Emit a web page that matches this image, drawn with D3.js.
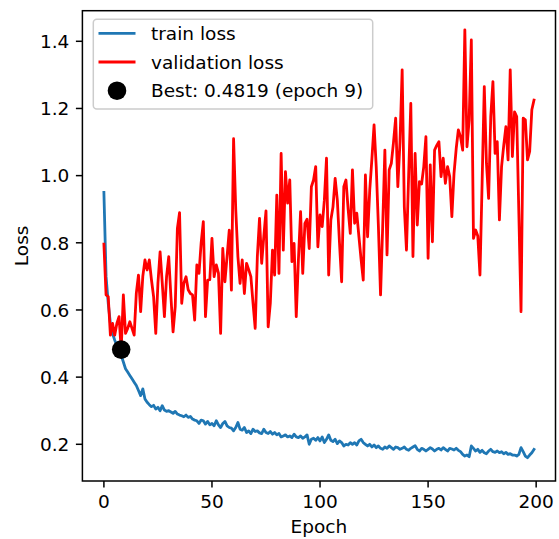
<!DOCTYPE html>
<html>
<head>
<meta charset="utf-8">
<script src="https://cdn.jsdelivr.net/npm/d3@7"></script>
<style>
  html, body { margin: 0; padding: 0; background: #fff; }
  svg { display: block; font-family: "DejaVu Sans", sans-serif; }
</style>
</head>
<body>
<svg id="chart" width="559" height="539"></svg>
<script>
// ── Data ──────────────────────────────────────────────────────────────────
const trainLoss = [
  0.950, 0.700, 0.620, 0.560, 0.530, 0.510, 0.495, 0.480, 0.465, 0.445,
  0.425, 0.415, 0.405, 0.395, 0.385, 0.375, 0.360, 0.345, 0.365, 0.335,
  0.325, 0.318, 0.312, 0.316, 0.305, 0.310, 0.300, 0.315, 0.302, 0.298,
  0.300, 0.296, 0.292, 0.298, 0.290, 0.287, 0.285, 0.282, 0.287, 0.280,
  0.283, 0.275, 0.272, 0.270, 0.262, 0.272, 0.270, 0.260, 0.268, 0.258,
  0.262, 0.255, 0.270, 0.258, 0.250, 0.262, 0.268, 0.255, 0.250, 0.248,
  0.240, 0.250, 0.265, 0.245, 0.242, 0.250, 0.235, 0.240, 0.232, 0.245,
  0.238, 0.240, 0.234, 0.232, 0.245, 0.235, 0.232, 0.238, 0.230, 0.235,
  0.228, 0.232, 0.222, 0.225, 0.228, 0.222, 0.225, 0.220, 0.230, 0.222,
  0.220, 0.225, 0.218, 0.222, 0.228, 0.200, 0.215, 0.218, 0.212, 0.220,
  0.210, 0.222, 0.205, 0.215, 0.228, 0.212, 0.208, 0.215, 0.202, 0.210,
  0.205, 0.195, 0.200, 0.198, 0.205, 0.200, 0.205, 0.198, 0.210, 0.215,
  0.205, 0.200, 0.195, 0.200, 0.192, 0.198, 0.190, 0.195, 0.188, 0.185,
  0.192, 0.188, 0.195, 0.190, 0.185, 0.192, 0.190, 0.185, 0.188, 0.192,
  0.185, 0.182, 0.188, 0.192, 0.196, 0.185, 0.180, 0.188, 0.185, 0.180,
  0.185, 0.190, 0.186, 0.180, 0.185, 0.188, 0.183, 0.190, 0.185, 0.180,
  0.188, 0.186, 0.183, 0.188, 0.182, 0.178, 0.170, 0.165, 0.168, 0.163,
  0.195, 0.188, 0.180, 0.185, 0.176, 0.182, 0.175, 0.172, 0.180, 0.185,
  0.178, 0.176, 0.180, 0.175, 0.178, 0.172, 0.176, 0.170, 0.172, 0.168,
  0.168, 0.165, 0.170, 0.190, 0.178, 0.165, 0.160, 0.168, 0.175, 0.185
];

const valLoss = [
  0.796, 0.645, 0.640, 0.525, 0.560, 0.525, 0.560, 0.580, 0.482, 0.645,
  0.530, 0.545, 0.565, 0.545, 0.525, 0.650, 0.704, 0.595, 0.700, 0.749,
  0.719, 0.749, 0.690, 0.639, 0.530, 0.680, 0.773, 0.680, 0.580, 0.700,
  0.759, 0.640, 0.535, 0.610, 0.843, 0.890, 0.620, 0.680, 0.699, 0.660,
  0.649, 0.645, 0.570, 0.734, 0.709, 0.800, 0.863, 0.580, 0.689, 0.690,
  0.813, 0.699, 0.734, 0.710, 0.530, 0.783, 0.684, 0.760, 0.838, 0.659,
  1.110, 0.900, 0.759, 0.679, 0.749, 0.649, 0.739, 0.720, 0.699, 0.620,
  0.545, 0.760, 0.873, 0.739, 0.820, 0.895, 0.550, 0.620, 0.778, 0.704,
  0.942, 0.709, 1.066, 0.778, 1.012, 0.918, 0.987, 0.744, 0.798, 0.580,
  0.750, 0.893, 0.709, 0.858, 0.870, 0.783, 0.967, 0.987, 1.027, 0.788,
  0.883, 0.848, 0.927, 1.052, 0.704, 0.868, 0.907, 0.992, 0.927, 0.800,
  0.684, 0.967, 0.987, 0.900, 0.828, 1.017, 0.858, 0.888, 0.818, 0.750,
  0.689, 1.002, 0.818, 0.957, 1.050, 1.151, 1.027, 0.850, 0.645, 0.850,
  1.076, 0.764, 1.017, 1.037, 1.100, 1.171, 0.967, 1.100, 1.315, 0.907,
  0.778, 1.000, 1.215, 0.759, 1.066, 0.853, 0.982, 0.975, 1.027, 1.116,
  0.754, 1.032, 0.803, 1.076, 1.090, 1.101, 0.997, 1.052, 0.977, 1.027,
  0.997, 0.878, 1.007, 1.080, 1.136, 1.116, 1.076, 1.434, 1.086, 1.166,
  1.404, 0.813, 0.838, 0.820, 0.704, 0.980, 1.265, 1.037, 0.932, 1.176,
  1.280, 1.066, 1.101, 0.868, 1.027, 1.090, 1.146, 1.047, 1.315, 1.057,
  1.190, 1.176, 0.885, 0.595, 1.171, 1.166, 1.047, 1.072, 1.196, 1.225
];

const bestEpoch = 8;          // 0-based index; label says epoch 9
const bestLoss = 0.4819;

const xTicks = [0, 50, 100, 150, 200];
const yTicks = [0.2, 0.4, 0.6, 0.8, 1.0, 1.2, 1.4];

const legendLabels = ['train loss', 'validation loss', `Best: ${bestLoss.toFixed(4)} (epoch ${bestEpoch + 1})`];

// ── Geometry ──────────────────────────────────────────────────────────────
const plot = { left: 82.4, right: 555.5, top: 10.7, bottom: 481 };
const FONT = 18.5;
const TICK_LEN = 6.5;
const TICK_PAD = 6.5;

const x = d3.scaleLinear().domain([-9.95, 208.95]).range([plot.left, plot.right]);
const y = d3.scaleLinear().domain([0.0907, 1.4911]).range([plot.bottom, plot.top]);

const svg = d3.select('#chart');

// Clip the data to the axes box
svg.append('clipPath').attr('id', 'clip')
  .append('rect')
  .attr('x', plot.left).attr('y', plot.top)
  .attr('width', plot.right - plot.left).attr('height', plot.bottom - plot.top);

const line = d3.line()
  .x((d, i) => x(i))
  .y(d => y(d));

const g = svg.append('g').attr('clip-path', 'url(#clip)');

g.append('path')
  .datum(trainLoss)
  .attr('d', line)
  .attr('fill', 'none')
  .attr('stroke', '#1f77b4')
  .attr('stroke-width', 2.8)
  .attr('stroke-linejoin', 'round')
  .attr('stroke-linecap', 'square');

g.append('path')
  .datum(valLoss)
  .attr('d', line)
  .attr('fill', 'none')
  .attr('stroke', '#ff0000')
  .attr('stroke-width', 2.8)
  .attr('stroke-linejoin', 'round')
  .attr('stroke-linecap', 'square');

g.append('circle')
  .attr('cx', x(bestEpoch))
  .attr('cy', y(bestLoss))
  .attr('r', 9.3)
  .attr('fill', '#000');

// ── Axes ──────────────────────────────────────────────────────────────────
const xAxis = svg.append('g');
xAxis.selectAll('line.tick').data(xTicks).enter().append('line')
  .attr('x1', d => x(d)).attr('x2', d => x(d))
  .attr('y1', plot.bottom).attr('y2', plot.bottom + TICK_LEN)
  .attr('stroke', '#000').attr('stroke-width', 1.5);
xAxis.selectAll('text').data(xTicks).enter().append('text')
  .attr('x', d => x(d))
  .attr('y', plot.bottom + TICK_LEN + TICK_PAD + 0.73 * FONT)
  .attr('text-anchor', 'middle')
  .attr('font-size', FONT)
  .attr('fill', '#000')
  .text(d => d);

const yAxis = svg.append('g');
yAxis.selectAll('line.tick').data(yTicks).enter().append('line')
  .attr('x1', plot.left - TICK_LEN).attr('x2', plot.left)
  .attr('y1', d => y(d)).attr('y2', d => y(d))
  .attr('stroke', '#000').attr('stroke-width', 1.5);
yAxis.selectAll('text').data(yTicks).enter().append('text')
  .attr('x', plot.left - TICK_LEN - TICK_PAD)
  .attr('y', d => y(d) + 0.365 * FONT)
  .attr('text-anchor', 'end')
  .attr('font-size', FONT)
  .attr('fill', '#000')
  .text(d => d3.format('.1f')(d));

// spines
svg.append('rect')
  .attr('x', plot.left).attr('y', plot.top)
  .attr('width', plot.right - plot.left).attr('height', plot.bottom - plot.top)
  .attr('fill', 'none').attr('stroke', '#000').attr('stroke-width', 1.5);

// axis labels
svg.append('text')
  .attr('x', (plot.left + plot.right) / 2)
  .attr('y', 532.5)
  .attr('text-anchor', 'middle')
  .attr('font-size', FONT)
  .text('Epoch');

svg.append('text')
  .attr('transform', `translate(28.3, ${(plot.top + plot.bottom) / 2}) rotate(-90)`)
  .attr('text-anchor', 'middle')
  .attr('font-size', FONT)
  .text('Loss');

// ── Legend ────────────────────────────────────────────────────────────────
const legend = svg.append('g');
legend.append('rect')
  .attr('x', 93.3).attr('y', 19.3)
  .attr('width', 279.4).attr('height', 89.7)
  .attr('rx', 3.5).attr('ry', 3.5)
  .attr('fill', 'rgba(255,255,255,0.8)')
  .attr('stroke', '#cccccc')
  .attr('stroke-width', 1.5);

const rowY = [33.3, 62, 90.7];
const items = legend.selectAll('g.item').data(legendLabels).enter().append('g')
  .attr('transform', (d, i) => `translate(0, ${rowY[i]})`);

items.filter((d, i) => i < 2).append('line')
  .attr('x1', 98.5).attr('x2', 135.5)
  .attr('y1', 0).attr('y2', 0)
  .attr('stroke', (d, i) => i === 0 ? '#1f77b4' : '#ff0000')
  .attr('stroke-width', 2.8);

items.filter((d, i) => i === 2).append('circle')
  .attr('cx', 117).attr('cy', 0).attr('r', 9.3).attr('fill', '#000');

items.append('text')
  .attr('x', 151)
  .attr('y', 0.365 * FONT)
  .attr('font-size', FONT)
  .attr('fill', '#000')
  .text(d => d);
</script>
</body>
</html>
